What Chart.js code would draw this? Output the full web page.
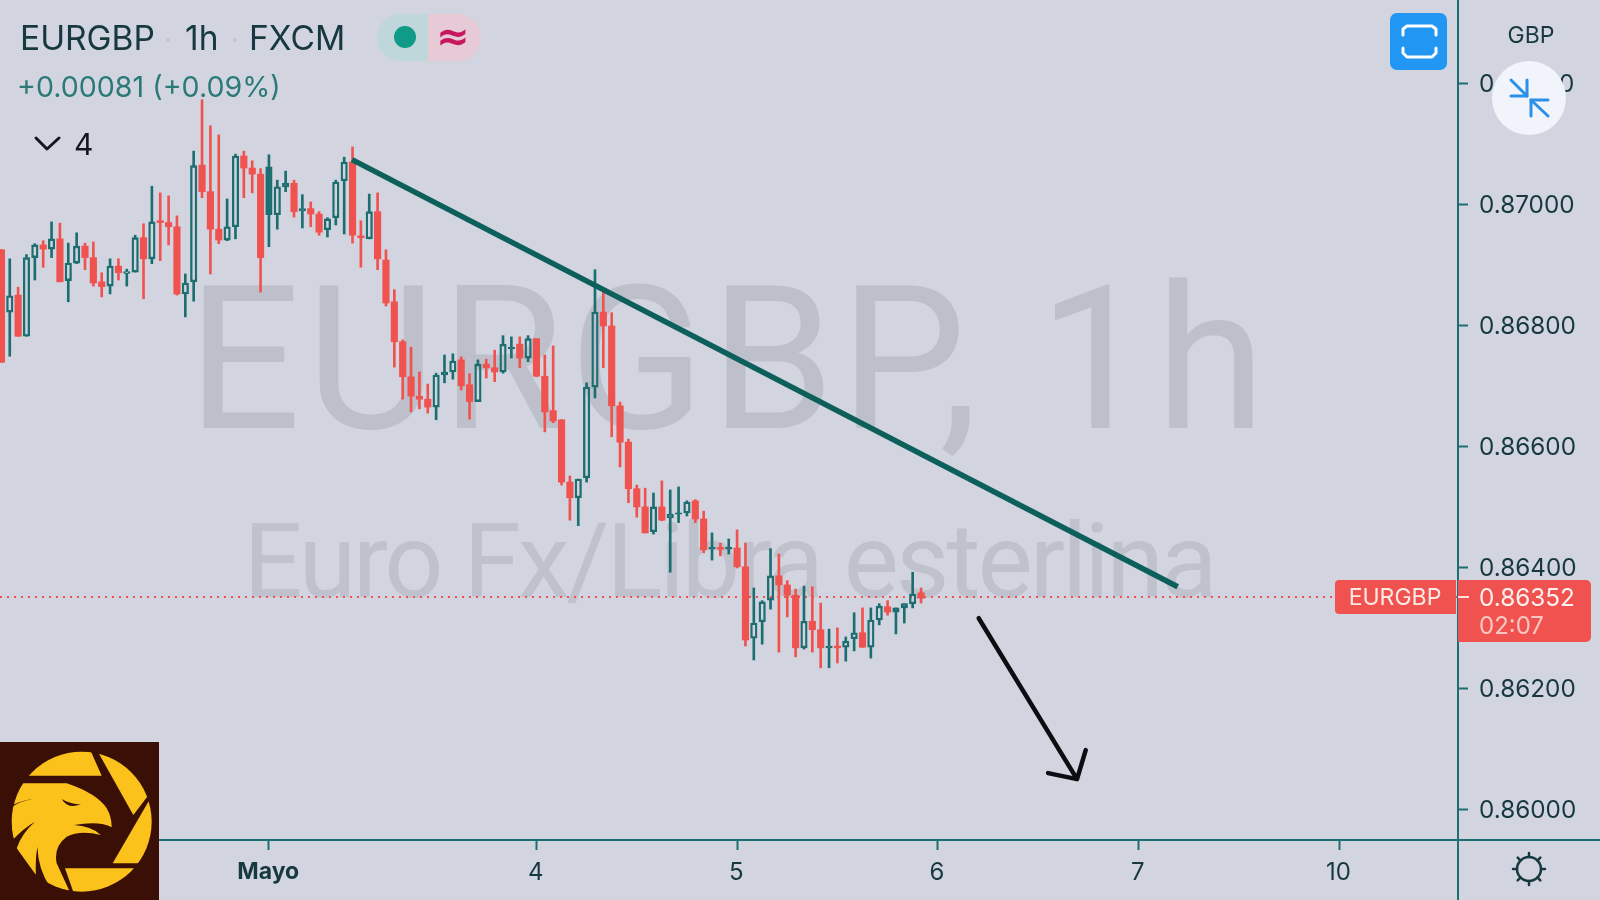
<!DOCTYPE html>
<html><head><meta charset="utf-8">
<style>html,body{margin:0;padding:0;background:#d2d5e0;width:1600px;height:900px;overflow:hidden}canvas{display:block}</style>
<script src="https://cdn.jsdelivr.net/npm/chart.js@4"></script>
</head><body><canvas id="c" width="1600" height="900"></canvas>
<script>
const opens=[.86926,.86823,.86851,.86783,.86913,.86934,.86927,.86944,.86875,.86904,.86932,.86913,.86873,.86866,.86899,.86887,.86889,.86946,.86911,.86974,.86971,.86964,.86853,.86873,.87066,.87022,.86960,.86942,.86964,.87081,.87061,.87051,.86984,.86984,.87030,.87036,.86990,.86994,.86985,.86959,.86979,.87040,.87071,.86949,.86944,.86989,.86909,.86840,.86774,.86716,.86684,.86679,.86666,.86719,.86724,.86744,.86703,.86675,.86737,.86731,.86724,.86762,.86770,.86747,.86779,.86717,.86660,.86645,.86542,.86516,.86549,.86699,.86823,.86800,.86668,.86608,.86531,.86501,.86460,.86501,.86483,.86489,.86491,.86511,.86481,.86431,.86434,.86431,.86433,.86402,.86284,.86311,.86347,.86387,.86372,.86355,.86268,.86312,.86298,.86268,.86271,.86269,.86283,.86293,.86269,.86314,.86336,.86327,.86334,.86341,.86359];
const highs=[.86926,.86911,.86864,.86918,.86936,.86941,.86972,.86970,.86937,.86954,.86937,.86939,.86888,.86911,.86911,.86894,.86950,.86969,.87031,.87020,.87015,.86982,.86886,.87089,.87174,.87131,.87116,.87010,.87084,.87089,.87073,.87060,.87083,.87041,.87056,.87041,.87017,.87005,.86989,.86979,.87041,.87079,.87096,.86974,.87018,.87020,.86926,.86860,.86777,.86765,.86724,.86704,.86722,.86752,.86754,.86749,.86721,.86744,.86745,.86760,.86784,.86782,.86782,.86784,.86779,.86752,.86767,.86645,.86552,.86547,.86706,.86893,.86856,.86822,.86674,.86613,.86537,.86532,.86524,.86544,.86529,.86534,.86511,.86513,.86494,.86458,.86441,.86448,.86463,.86441,.86367,.86346,.86432,.86423,.86379,.86365,.86370,.86369,.86342,.86299,.86301,.86286,.86326,.86334,.86334,.86341,.86346,.86334,.86341,.86393,.86367];
const lows=[.86740,.86750,.86783,.86783,.86876,.86897,.86913,.86873,.86840,.86903,.86893,.86866,.86848,.86853,.86876,.86866,.86889,.86845,.86903,.86908,.86934,.86851,.86815,.86841,.87012,.86886,.86936,.86941,.86944,.87012,.87020,.86856,.86931,.86960,.87022,.86980,.86962,.86964,.86950,.86947,.86967,.86952,.86937,.86897,.86944,.86893,.86833,.86732,.86679,.86658,.86663,.86656,.86645,.86706,.86712,.86694,.86646,.86675,.86714,.86708,.86722,.86747,.86731,.86741,.86716,.86625,.86640,.86537,.86479,.86470,.86542,.86681,.86731,.86617,.86567,.86508,.86484,.86458,.86456,.86478,.86393,.86475,.86486,.86475,.86425,.86413,.86420,.86423,.86400,.86271,.86248,.86274,.86332,.86261,.86319,.86253,.86266,.86261,.86235,.86235,.86243,.86246,.86263,.86269,.86251,.86306,.86322,.86291,.86309,.86334,.86342];
const closes=[.86740,.86850,.86783,.86913,.86934,.86927,.86944,.86873,.86904,.86932,.86913,.86871,.86865,.86899,.86888,.86890,.86946,.86911,.86972,.86971,.86964,.86853,.86871,.87065,.87022,.86960,.86942,.86964,.87081,.87061,.87051,.86913,.87063,.87030,.87036,.86989,.86994,.86985,.86955,.86977,.87038,.87071,.86950,.86946,.86989,.86911,.86838,.86774,.86716,.86684,.86679,.86666,.86719,.86724,.86742,.86701,.86675,.86737,.86731,.86724,.86770,.86765,.86747,.86779,.86717,.86658,.86643,.86542,.86516,.86547,.86699,.86823,.86800,.86668,.86608,.86531,.86501,.86458,.86501,.86479,.86489,.86491,.86509,.86481,.86430,.86434,.86431,.86434,.86402,.86281,.86309,.86344,.86387,.86372,.86355,.86268,.86312,.86298,.86268,.86271,.86268,.86279,.86293,.86269,.86314,.86337,.86327,.86334,.86341,.86357,.86350];
const filledUpCandles=[32,34,36,53,61,81,85,87,99,107];
const priceTicks=[.860,.862,.864,.866,.868,.870,.872];
const timeTickPositions=[32,64,88,112,136,160];
const timeTickLabels=['Mayo','4','5','6','7','10'];
const lastPrice=.86352;
const trendX=[41.94,140.7], trendY=[.87075,.86369];
const arrowX=[116.9,128.66,125.2,128.66,129.7], arrowY=[.86317,.86051,.86061,.86051,.86099];

const TEAL='#1c6e70',RED='#f0534f',INK='#17383f',FONT='Inter, "Noto Sans", sans-serif';
const xMin=-0.167,xMax=174.23,yMin=.859504,yMax=.873388;
const idx=opens.map((_,i)=>i);
const isUp=i=>closes[i]>=opens[i];
const colorOf=i=>isUp(i)?TEAL:RED;
const bodyHi=i=>Math.max(opens[i],closes[i]),bodyLo=i=>Math.min(opens[i],closes[i]);

function tx(c,s,x,y,font,col,al){c.font=font;c.fillStyle=col;c.textAlign=al||'left';c.textBaseline='alphabetic';c.fillText(s,x,y);}
function ln(c,pts,w,col){c.beginPath();pts.forEach((p,i)=>i?c.lineTo(p[0],p[1]):c.moveTo(p[0],p[1]));c.lineWidth=w;c.strokeStyle=col;c.lineCap='round';c.lineJoin='round';c.stroke();}
function rr(c,x,y,w,h,r,col){c.beginPath();c.roundRect(x,y,w,h,r);c.fillStyle=col;c.fill();}

const watermark={id:'wm',beforeDatasetsDraw(ch){const c=ch.ctx;c.save();
  c.letterSpacing='5px';
  tx(c,'EURGBP, 1h',729,428,'200px Roboto','#bdc0cb','center');
  c.letterSpacing='-3px';
  tx(c,'Euro Fx/Libra esterlina',729,597,'104px Roboto','#bfc2cd','center');
  c.letterSpacing='0px';
  c.restore();}};
function drawLogo(c){
  c.save();c.fillStyle='#3a1006';c.fillRect(0,742,159,158);
  c.translate(0,730);c.scale(1/3,1/3);
  c.beginPath();c.arc(245,275,210,0,Math.PI*2);c.clip();
  c.fillStyle='#fcc21c';
  const poly=a=>{c.beginPath();a.forEach((p,i)=>i?c.lineTo(p[0],p[1]):c.moveTo(p[0],p[1]));c.closePath();c.fill();};
  poly([[60,137],[305,137],[262,40],[60,40]]);
  poly([[285,50],[400,255],[480,150],[400,50]]);
  poly([[338,400],[445,215],[480,215],[480,400]]);
  poly([[195,415],[410,415],[410,500],[225,500]]);
  const e=new Path2D('M60 160 L200 160 Q290 190 320 235 Q335 260 335 292 Q300 272 222 285 Q280 290 302 315 Q240 300 200 320 Q160 350 170 400 L208 482 L150 470 Q115 420 112 350 Q105 390 108 435 L50 355 Q65 310 105 275 Q70 295 38 330 L30 235 Q60 212 100 208 Q70 210 38 225 Z');
  c.fill(e);
  c.fillStyle='#3a1006';c.fill(new Path2D('M185 207 Q205 240 243 222 Q215 225 185 207 Z'));
  c.restore();
}
const overlay={id:'ov',afterDraw(ch){const c=ch.ctx;c.save();
  // axis lines running past the plot
  ln(c,[[1458,0],[1458,900]],2,TEAL);
  c.lineCap='butt';c.beginPath();c.moveTo(159,840);c.lineTo(1600,840);c.lineWidth=2;c.strokeStyle=TEAL;c.stroke();
  // header
  tx(c,'EURGBP',20,50,'33.5px '+FONT,INK);
  tx(c,'1h',185,50,'33.5px '+FONT,INK);
  tx(c,'FXCM',249,50,'33.5px '+FONT,INK);
  c.fillStyle='#bfc4cd';[168,235].forEach(x=>{c.beginPath();c.arc(x,40,2,0,7);c.fill();});
  tx(c,'+0.00081 (+0.09%)',17,97,'28.6px '+FONT,'#2b7a78');
  ln(c,[[36,138],[47,149],[59,138]],3,'#14171f');
  tx(c,'4',74,155,'30px '+FONT,'#14171f');
  // status pill
  c.beginPath();c.roundRect(377,14,104,47,23);c.save();c.clip();
  c.fillStyle='#bfd7da';c.fillRect(377,14,51,47);c.fillStyle='#e6cbd7';c.fillRect(428,14,53,47);c.restore();
  c.beginPath();c.arc(405,37,11,0,7);c.fillStyle='#0f9b86';c.fill();
  tx(c,'≈',453,50,'bold 40px "DejaVu Sans"','#c8175f','center');
  // screen button
  rr(c,1390,13,57,57,7,'#2196f3');
  ln(c,[[1403,35],[1403,29],[1407,26],[1432,26],[1436,29],[1436,35]],3,'#fff');
  ln(c,[[1403,48],[1403,53],[1407,57],[1432,57],[1436,53],[1436,48]],3,'#fff');
  // axis header and circle
  tx(c,'GBP',1531,43,'23px '+FONT,INK,'center');
  c.beginPath();c.arc(1529,98,37,0,7);c.fillStyle='#f2f4fb';c.fill();
  ln(c,[[1511,80],[1527,96]],3,'#2a90e8');ln(c,[[1527,80],[1527,96],[1511,96]],3,'#2a90e8');
  ln(c,[[1548,116],[1531,100]],3,'#2a90e8');ln(c,[[1531,116],[1531,100],[1548,100]],3,'#2a90e8');
  // price tags
  rr(c,1335,580,121,34,[4,0,0,4],RED);
  tx(c,'EURGBP',1395,605,'23px '+FONT,'#fbe9e6','center');
  rr(c,1458,580,133,62,[0,5,5,0],RED);
  c.lineCap='butt';c.beginPath();c.moveTo(1458,597);c.lineTo(1469,597);c.lineWidth=2;c.strokeStyle='#fbe0dc';c.stroke();
  tx(c,lastPrice.toFixed(5),1479,606,'24.3px '+FONT,'#fdf0ee');
  tx(c,'02:07',1479,634,'24px '+FONT,'#f9c6c1');
  // gear
  c.beginPath();c.arc(1529,869,12,0,7);c.lineWidth=2.5;c.strokeStyle=INK;c.stroke();
  for(let k=0;k<8;k++){const a=k*Math.PI/4+Math.PI/2,q=[Math.cos(a),Math.sin(a)];
    ln(c,[[1529+q[0]*12,869+q[1]*12],[1529+q[0]*16,869+q[1]*16]],2.5,INK);}
  drawLogo(c);
  c.restore();}};

const noPad=s=>{s.paddingTop=0;s.paddingBottom=0;s.paddingLeft=0;s.paddingRight=0;};
const lineBase={type:'line',pointRadius:0,fill:false,tension:0};
new Chart(document.getElementById('c'),{
  data:{datasets:[
    {...lineBase,order:0,data:arrowX.map((x,i)=>({x,y:arrowY[i]})),borderColor:'#0c0d12',borderWidth:4.5,borderCapStyle:'round',borderJoinStyle:'round'},
    {...lineBase,order:1,data:trendX.map((x,i)=>({x,y:trendY[i]})),borderColor:'#0d5f5c',borderWidth:5.5},
    {type:'bar',order:2,barThickness:6.5,grouped:false,borderSkipped:false,
      data:idx.map(i=>({x:i,y:[bodyLo(i),bodyHi(i)]})),
      backgroundColor:idx.map(i=>isUp(i)?(filledUpCandles.includes(i)?TEAL:'rgba(0,0,0,0)'):RED),
      borderColor:idx.map(i=>isUp(i)?TEAL:RED),borderWidth:idx.map(i=>isUp(i)?1.7:0)},
    {type:'bar',order:3,barThickness:2,grouped:false,borderWidth:0,
      data:idx.map(i=>({x:i,y:[bodyHi(i),highs[i]]})),backgroundColor:idx.map(colorOf)},
    {type:'bar',order:3,barThickness:2,grouped:false,borderWidth:0,
      data:idx.map(i=>({x:i,y:[lows[i],bodyLo(i)]})),backgroundColor:idx.map(colorOf)},
    {...lineBase,order:4,data:[{x:xMin,y:lastPrice},{x:xMax,y:lastPrice}],borderColor:'#ef5350',borderWidth:2,borderDash:[2,5]}
  ]},
  options:{responsive:false,animation:false,devicePixelRatio:1,
    layout:{padding:0},
    plugins:{legend:{display:false},tooltip:{enabled:false}},
    scales:{
      x:{type:'linear',position:'bottom',min:xMin,max:xMax,offset:false,
        afterBuildTicks(s){s.ticks=timeTickPositions.map(v=>({value:v}));},
        afterFit(s){s.height=60;noPad(s);},
        border:{display:false},
        grid:{drawOnChartArea:false,drawTicks:true,tickLength:10,tickColor:TEAL,tickWidth:2,offset:false},
        ticks:{autoSkip:false,maxRotation:0,minRotation:0,padding:8,labelOffset:-0.7,color:INK,
          font:c=>({family:FONT,size:c.tick&&c.tick.value===32?23:24,weight:c.tick&&c.tick.value===32?'bold':'normal'}),
          callback:v=>timeTickLabels[timeTickPositions.indexOf(v)]}},
      y:{type:'linear',position:'right',min:yMin,max:yMax,
        afterBuildTicks(s){s.ticks=priceTicks.map(v=>({value:v}));},
        afterFit(s){s.width=142;noPad(s);},
        border:{display:false},
        grid:{drawOnChartArea:false,drawTicks:true,tickLength:10,tickColor:TEAL,tickWidth:2},
        ticks:{padding:11,labelOffset:1,color:INK,font:{family:FONT,size:24.3},callback:v=>v.toFixed(5)}}
    }
  },
  plugins:[watermark,overlay]
});
</script></body></html>
